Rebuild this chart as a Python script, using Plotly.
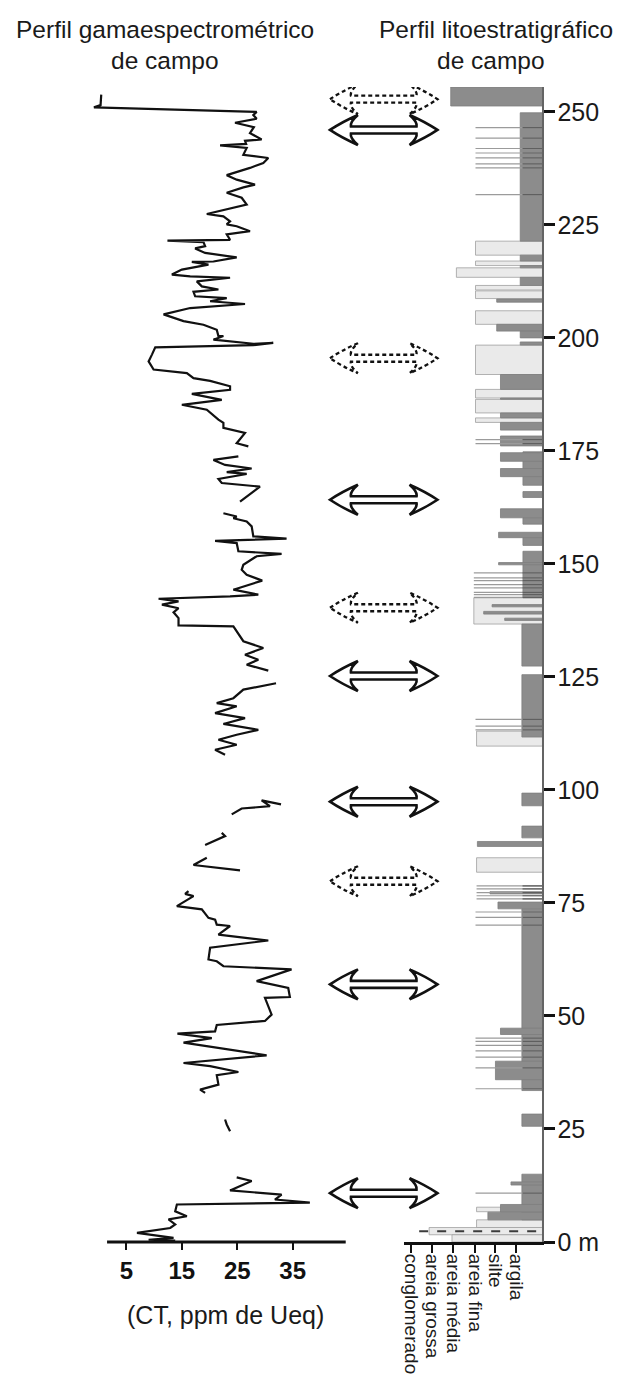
import plotly.graph_objects as go

# ---------------- DATA ----------------
# Gamma-ray profile (CT, ppm de Ueq) by depth (m); segments separated by gaps
seg_a_ct = [0.45, 0.33, -0.87, 28.5, 27.9, 28.5, 24.6, 28.0, 27.3, 29.4, 26.4, 26.6, 21.9, 26.7, 26.1, 30.6, 29.7, 27.3, 23.1, 24.9,
            28.2, 26.1, 23.1, 25.8, 26.7, 19.5, 22.5, 23.7, 23.1, 24.9, 27.3, 23.1, 23.7, 12.4, 18.9, 19.2, 17.4, 19.2, 24.9, 20.7,
            16.8, 19.8, 15.0, 13.2, 16.5, 23.7, 17.7, 18.6, 21.6, 17.1, 17.4, 23.1, 20.1, 26.4, 16.5, 11.7, 15.3, 18.9, 21.3, 21.6,
            22.5, 20.7, 27.9, 31.5, 27.9, 10.2, 9.6, 9.0, 9.9, 15.9, 17.1, 20.1, 23.7, 23.7, 16.8, 22.2, 15.0, 19.5, 21.6, 22.5,
            22.5, 26.4, 24.9, 27.0]
seg_a_depth = [253.8, 251.5, 251.0, 250.0, 249.3, 248.5, 247.6, 246.6, 245.3, 243.9, 243.6, 242.9, 242.6, 242.0, 240.5, 239.8, 238.7, 237.6, 236.0, 235.0,
               233.9, 233.3, 232.1, 231.0, 229.5, 227.4, 226.9, 225.8, 225.1, 224.7, 223.6, 222.9, 221.7, 221.5, 221.2, 220.3, 219.8, 218.8, 217.8, 216.9,
               216.8, 216.2, 215.1, 214.0, 213.6, 213.3, 212.5, 211.4, 210.7, 210.2, 209.2, 208.8, 208.1, 207.5, 206.6, 205.2, 203.7, 202.9, 201.8, 200.4,
               200.4, 199.6, 198.7, 198.9, 198.4, 197.9, 196.3, 194.8, 193.0, 192.2, 191.1, 190.5, 189.3, 188.5, 187.6, 186.3, 185.2, 184.1, 181.9, 181.2,
               180.1, 179.0, 176.7, 176.0]
seg_b_ct = [25.2, 20.7, 22.8, 27.6, 23.1, 26.7, 21.6, 22.2, 29.1, 25.5]
seg_b_depth = [173.8, 173.0, 171.9, 171.1, 170.3, 169.9, 168.8, 167.9, 167.1, 163.8]
seg_c_ct = [22.5, 24.9, 24.3, 26.7, 27.6, 27.9, 33.9, 21.0, 24.9, 25.2, 33.0, 28.5, 26.1, 25.8, 26.7, 29.5, 24.3, 28.8, 23.7, 10.8,
            14.4, 11.4, 14.4, 13.5, 14.4, 14.4, 24.3, 26.1, 29.7, 26.4, 28.8, 26.7, 30.6]
seg_c_depth = [161.2, 160.5, 160.1, 159.4, 158.3, 156.1, 155.6, 155.1, 154.6, 152.8, 152.2, 151.7, 149.8, 148.7, 147.6, 146.3, 144.3, 143.2, 142.8, 142.3,
               141.7, 141.0, 140.2, 139.3, 138.0, 136.4, 136.2, 132.9, 131.4, 129.9, 128.8, 127.7, 126.4]
seg_d_ct = [32.0, 26.1, 24.3, 21.3, 24.9, 21.0, 26.4, 22.5, 28.8, 24.9, 21.6, 24.9, 21.0, 22.8]
seg_d_depth = [123.6, 122.2, 120.3, 119.2, 118.5, 117.0, 115.9, 114.6, 113.3, 112.2, 111.1, 110.0, 108.9, 107.8]
seg_e_ct = [24.0, 25.8, 30.9, 29.4, 32.9]
seg_e_depth = [94.6, 95.9, 96.4, 97.7, 96.8]
seg_f_ct = [19.2, 22.8, 22.2]
seg_f_depth = [87.8, 89.8, 90.5]
seg_g_ct = [19.5, 17.1, 25.5]
seg_g_depth = [85.0, 83.4, 82.2]
seg_h_ct = [16.2, 15.6, 17.1, 14.1, 18.6, 19.8, 21.0, 21.3, 23.7, 21.6, 30.6, 20.1, 19.8, 21.3, 22.5, 34.8, 28.5, 34.2, 34.5, 30.0,
            31.2, 30.0, 21.3, 21.0, 14.2, 20.4, 15.3, 23.7, 30.3, 15.3, 20.1, 25.2, 21.3, 21.6, 18.3, 19.2]
seg_h_depth = [77.6, 77.0, 76.5, 74.3, 73.6, 71.7, 71.3, 70.2, 69.9, 68.0, 66.7, 65.1, 62.5, 62.1, 61.0, 60.3, 57.7, 56.2, 54.2, 54.0,
               50.3, 48.9, 48.0, 46.6, 46.1, 45.1, 44.1, 42.6, 41.3, 39.6, 38.9, 37.6, 36.9, 34.8, 33.7, 33.0]
seg_i_ct = [22.8, 23.1, 23.7]
seg_i_depth = [27.1, 26.0, 24.5]
seg_j_ct = [24.9, 27.6, 23.7, 33.0, 31.8, 38.1, 14.1, 13.8, 15.9, 12.6, 13.8, 12.9, 6.9, 13.5, 9.0, 13.8]
seg_j_depth = [14.3, 13.5, 11.4, 10.5, 9.4, 8.7, 8.3, 6.8, 5.7, 5.0, 3.9, 3.1, 2.0, 0.9, 0.5, 0.3]

gamma_segments = [(seg_a_ct, seg_a_depth), (seg_b_ct, seg_b_depth), (seg_c_ct, seg_c_depth), (seg_d_ct, seg_d_depth),
                  (seg_e_ct, seg_e_depth), (seg_f_ct, seg_f_depth), (seg_g_ct, seg_g_depth), (seg_h_ct, seg_h_depth),
                  (seg_i_ct, seg_i_depth), (seg_j_ct, seg_j_depth)]

gamma_ticks = [5, 15, 25, 35]

# Lithology beds: top (m), base (m), grain-size extent, facies (D = argila/silte dark, L = sand light)
bed_top = [255.5, 249.8, 221.4, 218.3, 217.0, 216.0, 215.5, 213.4, 211.6, 210.4, 208.6, 206.0, 203.0, 201.5, 199.1, 198.4,
           191.9, 188.6, 186.7, 186.4, 183.4, 182.3, 181.3, 178.3, 174.8, 174.6, 171.1, 166.0, 162.2, 160.2, 157.0, 155.8,
           152.8, 150.3, 142.5, 141.0, 139.5, 138.0, 136.7, 125.5, 113.0, 99.3, 92.0, 88.6, 85.0, 77.5, 75.2, 73.7,
           47.3, 40.0, 28.3, 15.0, 13.3, 7.7, 8.3, 6.6, 4.9, 3.2, 1.6]
bed_base = [251.3, 221.4, 218.3, 217.0, 216.0, 215.5, 213.4, 211.6, 210.6, 208.7, 207.9, 203.0, 201.5, 200.0, 198.4, 191.9,
            188.6, 186.7, 186.4, 183.4, 182.3, 181.3, 179.6, 176.1, 167.4, 172.7, 169.3, 164.7, 160.2, 158.8, 155.8, 154.1,
            142.5, 149.8, 136.7, 140.5, 138.9, 137.5, 127.4, 111.7, 109.7, 96.5, 89.4, 87.5, 81.8, 77.0, 73.7, 33.5,
            45.9, 35.9, 25.6, 4.9, 12.6, 6.7, 6.6, 4.9, 3.2, 1.6, 0.0]
bed_grain = [4.37, 1.06, 3.19, 1.06, 3.19, 1.06, 4.10, 1.06, 3.19, 3.19, 2.18, 3.19, 2.18, 1.06, 1.06, 3.19,
             2.00, 3.19, 2.00, 3.19, 2.00, 3.19, 2.00, 2.00, 0.93, 2.00, 2.00, 0.93, 2.00, 0.93, 2.09, 0.93,
             0.93, 2.09, 3.27, 2.40, 2.80, 1.80, 0.98, 0.98, 3.14, 0.98, 0.98, 3.10, 3.14, 2.50, 2.12, 0.98,
             2.00, 2.24, 0.98, 0.98, 1.50, 3.14, 2.00, 2.60, 3.14, 5.40, 4.31]
bed_facies = ["D", "D", "L", "D", "L", "D", "L", "D", "L", "L", "D", "L", "D", "D", "D", "L",
              "D", "L", "D", "L", "D", "L", "D", "D", "D", "D", "D", "D", "D", "D", "D", "D",
              "D", "D", "L", "D", "D", "D", "D", "D", "L", "D", "D", "D", "L", "D", "D", "D",
              "D", "D", "D", "D", "D", "L", "D", "D", "L", "L", "L"]

# Thin sand laminae (depth, grain-size extent)
lamina_depth = [246.5, 244.2, 241.9, 240.9, 239.8, 238.5, 237.6, 231.7, 177.5, 176.6, 148.0, 146.9, 146.3, 145.4, 144.7,
                143.7, 143.2, 142.6, 115.6, 114.1, 113.3, 78.8, 78.1, 77.3, 76.6, 75.9, 73.0, 71.8, 70.1, 45.1, 44.4,
                43.5, 42.3, 40.9, 38.5, 33.9, 10.8]
lamina_grain = [3.19, 3.19, 3.19, 3.19, 3.19, 3.19, 3.19, 3.19, 3.19, 3.19, 3.27, 3.27, 3.27, 3.27, 3.27,
                3.27, 3.27, 3.27, 3.19, 3.19, 3.19, 3.14, 3.14, 3.14, 3.14, 3.14, 3.19, 3.19, 3.19, 3.19, 3.19,
                3.19, 3.19, 3.19, 3.19, 3.19, 3.19]
conglomerate_depth = 2.4
conglomerate_grain = 6.3

grain_classes = ["argila", "silte", "areia fina", "areia média", "areia grossa", "conglomerado"]
grain_ticks = [1.27, 2.24, 3.22, 4.27, 5.27, 6.27]

depth_ticks = [0, 25, 50, 75, 100, 125, 150, 175, 200, 225, 250]
depth_labels = ["0 m"] + [str(v) for v in depth_ticks[1:]]

# correlation arrows (depth, m)
solid_arrow_depths = [246.0, 164.2, 125.2, 97.4, 57.0, 10.8]
dashed_arrow_depths = [252.8, 195.5, 140.3, 79.8]

# ---------------- FIGURE ----------------
W, H = 634, 1378
MT, MB = 79, 144
PH = H - MT - MB
Y_RANGE = [0, 255.5]
PX_PER_M = PH / (Y_RANGE[1] - Y_RANGE[0])
FONT = "Liberation Sans, Arial, sans-serif"
DARK = "rgb(140,140,140)"
LIGHT = "rgb(234,234,234)"


def py(y_px):
    return (H - MB - y_px) / PH


fig = go.Figure()

# lithology beds
for fac, col, lc in (("L", LIGHT, "rgb(160,160,160)"), ("D", DARK, "rgb(125,125,125)")):
    idx = [i for i, f in enumerate(bed_facies) if f == fac]
    fig.add_trace(go.Bar(
        orientation="h",
        y=[(bed_top[i] + bed_base[i]) / 2 for i in idx],
        width=[bed_top[i] - bed_base[i] for i in idx],
        x=[bed_grain[i] for i in idx],
        base=0,
        marker=dict(color=col, line=dict(color=lc, width=0.8)),
        xaxis="x2", yaxis="y", showlegend=False, hoverinfo="skip"))

lx, ly, dx_, dy_ = [], [], [], []
for d, g in zip(lamina_depth, lamina_grain):
    lx += [0, g, None]
    ly += [d, d, None]
    dx_ += [0, 0.95, None]
    dy_ += [d, d, None]
fig.add_trace(go.Scatter(x=lx, y=ly, mode="lines", line=dict(color="rgb(155,155,155)", width=1.2),
                         xaxis="x2", yaxis="y", showlegend=False, hoverinfo="skip"))
fig.add_trace(go.Scatter(x=dx_, y=dy_, mode="lines", line=dict(color="rgb(95,95,95)", width=1.2),
                         xaxis="x2", yaxis="y", showlegend=False, hoverinfo="skip"))
fig.add_trace(go.Scatter(x=[0.3, conglomerate_grain], y=[conglomerate_depth, conglomerate_depth], mode="lines",
                         line=dict(color="rgb(60,60,60)", width=2, dash="dash"),
                         xaxis="x2", yaxis="y", showlegend=False, hoverinfo="skip"))

# gamma curve
gx, gy = [], []
for cts, deps in gamma_segments:
    gx += cts + [None]
    gy += deps + [None]
fig.add_trace(go.Scatter(x=gx, y=gy, mode="lines", line=dict(color="#111", width=2.2),
                         xaxis="x", yaxis="y", showlegend=False, hoverinfo="skip", connectgaps=False))


# arrows
def arrow_path(depth, cx=374.5):
    pts = [("M", [(-54, 0)]),
           ("Q", [(-42, -8), (-26, -15)]), ("Q", [(-34, -8), (-33, -3.5)]), ("L", [(33, -3.5)]),
           ("Q", [(34, -8), (26, -15)]), ("Q", [(42, -8), (54, 0)]),
           ("Q", [(42, 8), (26, 15)]), ("Q", [(34, 8), (33, 3.5)]), ("L", [(-33, 3.5)]),
           ("Q", [(-34, 8), (-26, 15)]), ("Q", [(-42, 8), (-54, 0)])]
    s = ""
    for cmd, ps in pts:
        s += cmd + " " + " ".join(f"{(cx + dx) / W:.5f},{depth - dy / PX_PER_M:.4f}" for dx, dy in ps) + " "
    return s + "Z"


shapes = []
for d in solid_arrow_depths:
    shapes.append(dict(type="path", xref="paper", yref="y", path=arrow_path(d),
                       line=dict(color="#111", width=2.6), fillcolor="white"))
for d in dashed_arrow_depths:
    shapes.append(dict(type="path", xref="paper", yref="y", path=arrow_path(d),
                       line=dict(color="#111", width=2.3, dash="4px,3px"), fillcolor="white"))
# gamma x-axis baseline
shapes.append(dict(type="line", xref="x", yref="paper", x0=1.5, x1=44.6, y0=0, y1=0,
                   line=dict(color="#111", width=3)))

# pixel geometry -> domains
g_x0, g_x1 = -2.0, 44.6
px_per_ct = (283 - 116) / 30
gdom = [(116 - (5 - g_x0) * px_per_ct) / W, (116 + (g_x1 - 5) * px_per_ct) / W]

title_font = dict(size=24.5, family=FONT, color="#1a1a1a")

fig.update_layout(
    width=W, height=H, margin=dict(l=0, r=0, t=MT, b=MB),
    paper_bgcolor="white", plot_bgcolor="rgba(0,0,0,0)",
    barmode="overlay", showlegend=False, shapes=shapes,
    font=dict(family=FONT, color="#1a1a1a"),
    xaxis=dict(domain=gdom, range=[g_x0, g_x1], anchor="y", showline=False, showgrid=False, zeroline=False,
               ticks="outside", ticklen=7, tickwidth=2, tickcolor="#111",
               tickvals=gamma_ticks, ticktext=[f"<b>{v}</b>" for v in gamma_ticks],
               tickfont=dict(size=24, family=FONT, color="#111")),
    xaxis2=dict(domain=[395 / W, 534 / W], range=[6.59, 0], anchor="y", showline=True, linecolor="#111", linewidth=3,
                showgrid=False, zeroline=False, ticks="outside", ticklen=8, tickwidth=2, tickcolor="#111",
                tickvals=grain_ticks, ticktext=grain_classes, tickangle=90, ticklabelstandoff=-3,
                tickfont=dict(size=19, family=FONT, color="#1a1a1a")),
    yaxis=dict(domain=[0, 1], range=Y_RANGE, anchor="x2", side="right", showline=True, linecolor="rgb(100,100,100)",
               linewidth=2, showgrid=False, zeroline=False, ticks="outside", ticklen=11, tickwidth=3, tickcolor="#111",
               tickvals=depth_ticks, ticktext=depth_labels, ticklabelstandoff=-3,
               tickfont=dict(size=25, family=FONT, color="#1a1a1a")),
    annotations=[
        dict(text="Perfil gamaespectrométrico", xref="paper", yref="paper", x=155 / W, y=py(21),
             xanchor="center", yanchor="middle", showarrow=False, font=title_font),
        dict(text="de campo", xref="paper", yref="paper", x=155 / W, y=py(52),
             xanchor="center", yanchor="middle", showarrow=False, font=title_font),
        dict(text="Perfil litoestratigráfico", xref="paper", yref="paper", x=487 / W, y=py(21),
             xanchor="center", yanchor="middle", showarrow=False, font=title_font),
        dict(text="de campo", xref="paper", yref="paper", x=482 / W, y=py(52),
             xanchor="center", yanchor="middle", showarrow=False, font=title_font),
        dict(text="(CT, ppm de Ueq)", xref="paper", yref="paper", x=216 / W, y=py(1307),
             xanchor="center", yanchor="middle", showarrow=False, font=dict(size=25, family=FONT, color="#1a1a1a")),
    ],
)

fig.write_html("out.html")
